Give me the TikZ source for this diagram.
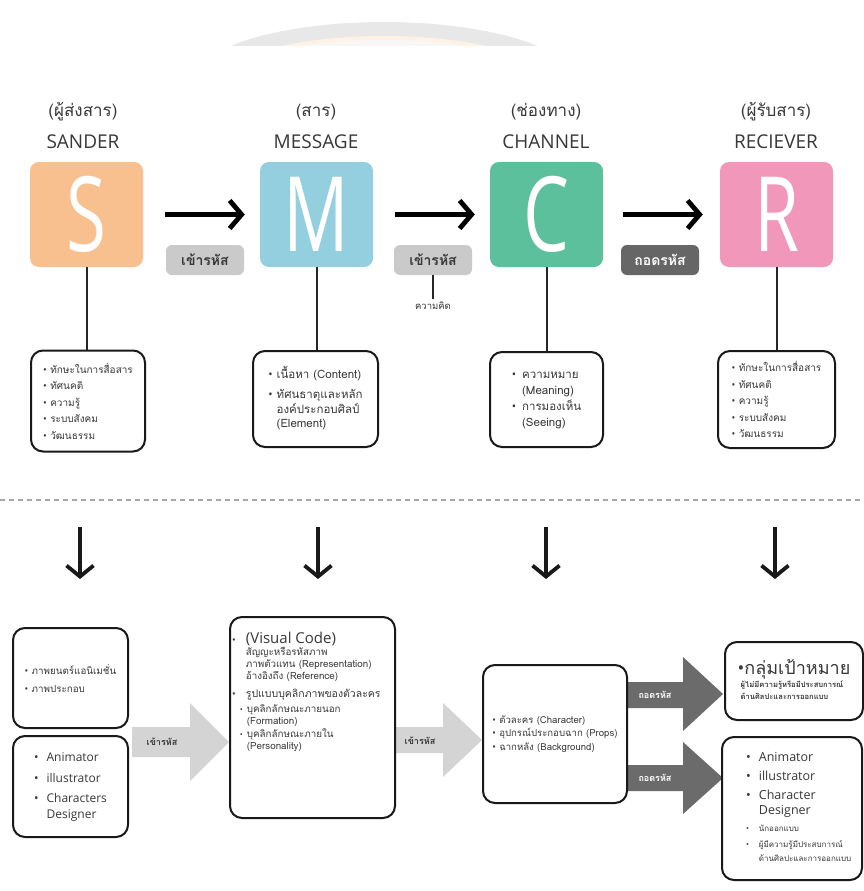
\documentclass[tikz,border=0pt]{standalone}
\usepackage{fontspec}
\setmainfont{Open Sans}
\newfontfamily\thf[Script=Thai]{Loma}
\newfontfamily\osf{Open Sans}
\usetikzlibrary{arrows.meta}
\definecolor{cS}{HTML}{F8C08E}
\definecolor{cM}{HTML}{93CFDF}
\definecolor{cC}{HTML}{5CC09C}
\definecolor{cR}{HTML}{F197B9}
\definecolor{tagl}{HTML}{CACACA}
\definecolor{tagd}{HTML}{666666}
\definecolor{arl}{HTML}{D4D4D4}
\definecolor{ard}{HTML}{6B6B6B}
\definecolor{txt}{HTML}{383838}
\newcommand\bu{{\osf •}}
\newcommand\sbu{{\osf\fontsize{8}{8}\selectfont •}}
\newcommand\narrowletter[1]{\scalebox{0.7}[1]{#1}}
\begin{document}
\begin{tikzpicture}[x=1pt,y=-1pt,
 cbox/.style={rounded corners=9pt, minimum width=113pt, minimum height=105pt, inner sep=0pt, text=white, font=\fontsize{104}{104}\selectfont},
 toplab/.style={text=txt, inner sep=0pt, font=\thf\fontsize{17}{17}\selectfont},
 topname/.style={text=txt, inner sep=0pt, font=\fontsize{19}{19}\selectfont},
 blk/.style={draw=black, line width=4.8pt, -{Straight Barb[length=12pt,width=28pt]}},
 blkdown/.style={draw=black!90, line width=3.8pt, -{Straight Barb[length=11pt,width=27pt]}},
 tag/.style={rounded corners=6pt, minimum width=78pt, minimum height=30pt, inner sep=0pt, font=\thf\bfseries\fontsize{14}{14}\selectfont},
 infobox/.style={draw=black!90, line width=2pt, rounded corners=12pt, inner sep=0pt, align=left, text=txt},
 conn/.style={draw=black!85, line width=2pt},
 txtnode/.style={inner sep=0pt, align=left, text=txt},
 arlab/.style={inner sep=0pt, font=\thf\bfseries\fontsize{9}{9}\selectfont},
]
\useasboundingbox (0,0) rectangle (864,891);
\fill[white] (0,0) rectangle (864,891);

% watermark
\begin{scope}
\clip (200,0) rectangle (600,46);
\fill[gray!18] (384,82) ellipse [x radius=192, y radius=60];
\fill[orange!10] (384,82) ellipse [x radius=165, y radius=46];
\fill[gray!6] (384,82) ellipse [x radius=158, y radius=42];
\end{scope}

% top labels
\node[toplab] (lS) at (83,112) {(ผู้ส่งสาร)};
\node[topname] (nS) at (83,142) {SANDER};
\node[toplab] (lM) at (316,112) {(สาร)};
\node[topname] (nM) at (316,142) {MESSAGE};
\node[toplab] (lC) at (546,112) {(ช่องทาง)};
\node[topname] (nC) at (546,142) {CHANNEL};
\node[toplab] (lR) at (776,112) {(ผู้รับสาร)};
\node[topname] (nR) at (776,142) {RECIEVER};

% coloured boxes
\node[cbox, fill=cS] (S) at (86.5,214.5) {\narrowletter{S}};
\node[cbox, fill=cM] (M) at (316.5,214.5) {\narrowletter{M}};
\node[cbox, fill=cC] (C) at (546.5,214.5) {\narrowletter{C}};
\node[cbox, fill=cR] (R) at (776.5,214.5) {\narrowletter{R}};

\draw[blk] ([xshift=22pt]S.east) -- ([xshift=-15pt]M.west);
\draw[blk] ([xshift=22pt]M.east) -- ([xshift=-15pt]C.west);
\draw[blk] ([xshift=20pt]C.east) -- ([xshift=-17pt]R.west);

% tags
\node[tag, fill=tagl, text=txt] (t1) at (205,260) {เข้ารหัส};
\node[tag, fill=tagl, text=txt] (t2) at (433,260) {เข้ารหัส};
\node[tag, fill=tagd, text=white] (t3) at (660,260) {ถอดรหัส};
\node[inner sep=0pt, text=txt, font=\thf\fontsize{9.5}{9.5}\selectfont] (idea) at (433,306) {ความคิด};
\draw[line width=1.6pt, black!85] (t2.south) -- ([yshift=3pt]idea.north);

% info boxes
\node[infobox, minimum width=114pt, minimum height=101pt, font=\thf\fontsize{10}{16.5}\selectfont] (i1) at (88,401)
 {\bu\ ทักษะในการสื่อสาร\\ \bu\ ทัศนคติ\\ \bu\ ความรู้\\ \bu\ ระบบสังคม\\ \bu\ วัฒนธรรม};
\node[infobox, minimum width=125pt, minimum height=96pt, font=\thf\fontsize{11.5}{14.5}\selectfont] (i2) at (315.5,399)
 {\begin{tabular}{@{}l@{\hspace{4pt}}l@{}}\bu & เนื้อหา (Content)\\[6pt] \bu & ทัศนธาตุและหลัก\\ & องค์ประกอบศิลป์\\ & (Element)\end{tabular}};
\node[infobox, minimum width=113pt, minimum height=95pt, font=\thf\fontsize{11.5}{16}\selectfont] (i3) at (546.5,399.5)
 {\begin{tabular}{@{}l@{\hspace{6pt}}l@{}}\bu & ความหมาย\\ & (Meaning)\\ \bu & การมองเห็น\\ & (Seeing)\end{tabular}};
\node[infobox, minimum width=117pt, minimum height=97pt, font=\thf\fontsize{10}{16.5}\selectfont] (i4) at (776.5,399.5)
 {\bu\ ทักษะในการสื่อสาร\\ \bu\ ทัศนคติ\\ \bu\ ความรู้\\ \bu\ ระบบสังคม\\ \bu\ วัฒนธรรม};

\draw[conn] (S.south) -- (S.south |- i1.north);
\draw[conn] (M.south) -- (M.south |- i2.north);
\draw[conn] (C.south) -- (C.south |- i3.north);
\draw[conn] (R.south) -- (R.south |- i4.north);

% dashed divider
\coordinate (dl) at (0,500);
\coordinate (dr) at (864,500);
\draw[gray!70, line width=1.3pt, dash pattern=on 5pt off 4pt] (dl) -- (dr);

% down arrows
\coordinate (d1a) at (80,527);   \coordinate (d1b) at (80,579);
\coordinate (d2a) at (318,527);  \coordinate (d2b) at (318,579);
\coordinate (d3a) at (546,527);  \coordinate (d3b) at (546,579);
\coordinate (d4a) at (775,527);  \coordinate (d4b) at (775,579);
\draw[blkdown] (d1a) -- (d1b);
\draw[blkdown] (d2a) -- (d2b);
\draw[blkdown] (d3a) -- (d3b);
\draw[blkdown] (d4a) -- (d4b);

% big block arrows
\fill[arl] (132,727) -- (190,727) -- (190,703) -- (229,742) -- (190,781) -- (190,757) -- (132,757) -- cycle;
\node[arlab, text=txt] (e1) at (162,742) {เข้ารหัส};
\fill[arl] (395,727) -- (443,727) -- (443,703) -- (482,740) -- (443,777) -- (443,753) -- (395,753) -- cycle;
\node[arlab, text=txt] (e2) at (420,741) {เข้ารหัส};
\fill[ard] (627,682) -- (683,682) -- (683,657) -- (723,694) -- (683,731) -- (683,708) -- (627,708) -- cycle;
\node[arlab, text=white] (e3) at (655,695) {ถอดรหัส};
\fill[ard] (627,765) -- (683,765) -- (683,742) -- (723,778) -- (683,814) -- (683,791) -- (627,791) -- cycle;
\node[arlab, text=white] (e4) at (655,778) {ถอดรหัส};

% bottom boxes
\node[infobox, minimum width=115pt, minimum height=100pt, font=\thf\fontsize{9.8}{18}\selectfont] (ba) at (70.5,678)
 {\bu\ ภาพยนตร์แอนิเมชั่น\\ \bu\ ภาพประกอบ};
\node[infobox, minimum width=115pt, minimum height=101pt, font=\osf\fontsize{12}{16}\selectfont] (bb) at (70.5,786.5)
 {\begin{tabular}{@{}l@{\hspace{8pt}}l@{}}\bu & Animator\\[5pt] \bu & illustrator\\[4pt] \bu & Characters\\ & Designer\end{tabular}};

\node[infobox, minimum width=165pt, minimum height=201pt] (bm) at (312.5,717.5) {};
\node[txtnode, anchor=north west, font=\thf\fontsize{9.8}{12}\selectfont] (bmt) at (232,632)
 {\begin{tabular}{@{}l@{\hspace{4pt}}l@{\hspace{4pt}}l@{}}
 \bu & \multicolumn{2}{l}{\osf\fontsize{15}{16}\selectfont (Visual Code)}\\
 & \multicolumn{2}{l}{สัญญะหรือรหัสภาพ}\\
 & \multicolumn{2}{l}{ภาพตัวแทน (Representation)}\\
 & \multicolumn{2}{l}{อ้างอิงถึง (Reference)}\\[6pt]
 \bu & \multicolumn{2}{l}{\fontsize{10.5}{12}\selectfont รูปแบบบุคลิกภาพของตัวละคร}\\[3pt]
 & \sbu & บุคลิกลักษณะภายนอก\\
 & & (Formation)\\
 & \sbu & บุคลิกลักษณะภายใน\\
 & & (Personality)
 \end{tabular}};

\node[infobox, minimum width=144pt, minimum height=138pt, font=\thf\fontsize{9.6}{13.5}\selectfont] (bc) at (555,734)
 {\bu\ ตัวละคร (Character)\\ \bu\ อุปกรณ์ประกอบฉาก (Props)\\ \bu\ ฉากหลัง (Background)};

\node[infobox, minimum width=138pt, minimum height=78pt] (br1) at (794,681)
 {\begin{tabular}{@{}l@{}}
  {\thf\fontsize{18}{19}\selectfont\bu กลุ่มเป้าหมาย}\\[1pt]
  \hspace{3pt}{\thf\bfseries\fontsize{7.6}{11}\selectfont ผู้ไม่มีความรู้หรือมีประสบการณ์}\\
  \hspace{3pt}{\thf\bfseries\fontsize{7.6}{11}\selectfont ด้านศิลปะและการออกแบบ}
  \end{tabular}};

\node[infobox, minimum width=140pt, minimum height=143pt] (br2) at (792,808.5) {};
\node[txtnode, anchor=north west, font=\osf\fontsize{12.5}{15.5}\selectfont] (br2t) at (746,750)
 {\begin{tabular}{@{}l@{\hspace{8pt}}l@{}}\bu & Animator\\[4pt] \bu & illustrator\\[3pt] \bu & Character\\ & Designer\\[1pt]
  \sbu & {\thf\fontsize{8}{11}\selectfont นักออกแบบ}\\[1pt]
  \sbu & {\thf\fontsize{8}{11}\selectfont ผู้มีความรู้มีประสบการณ์}\\[-2pt]
  & {\thf\fontsize{8}{11}\selectfont ด้านศิลปะและการออกแบบ}\end{tabular}};
\end{tikzpicture}
\end{document}
